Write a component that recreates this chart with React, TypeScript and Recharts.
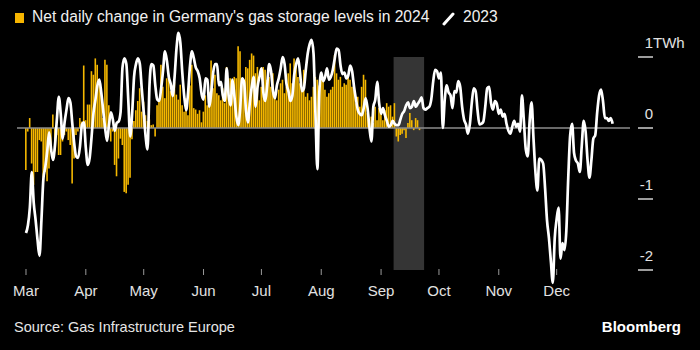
import { ComposedChart, Bar, Line, XAxis, YAxis, ReferenceArea, ReferenceLine } from 'recharts'

// day index 0 = 1 March, one value per day (TWh)
const monthTicks = [0, 31, 61, 92, 122, 153, 184, 214, 245, 275]
const monthLabels = ['Mar', 'Apr', 'May', 'Jun', 'Jul', 'Aug', 'Sep', 'Oct', 'Nov', 'Dec']
const valueTicks = [-2, -1, 0, 1]
const shadeStart = 190.5
const shadeEnd = 206.3

const change2024 = [
  -0.59, -0.05, 0.14, -0.5, -0.8, -0.62, -0.62, -0.17, -0.19, -0.7,
  -0.62, -0.75, -0.57, -0.33, 0.19, -0.33, -0.1, -0.38, -0.38, -0.19,
  -0.1, -0.05, -0.17, -0.24, -0.78, -0.43, -0.1, -0.05, 0.14, 0.09,
  0.88, 0.11, 0.33, 0.33, 0.8, 0.75, 0.98, 0.89, 0.65, 0.56,
  0.14, 0.96, 0.89, 0.32, -0.19, -0.05, -0.52, -0.68, -0.43, -0.15,
  -0.24, -0.9, -0.92, -0.8, -0.7, -0.16, 0.1, 0.25, 0.38, 0.56,
  0.23, 0.37, 0.18, 0.1, 0.12, 0.04, 0.05, -0.12, 0.32, 0.37,
  0.89, 0.58, 0.42, 0.7, 0.75, 0.52, 0.6, 0.65, 0.47, 0.4,
  0.61, 0.32, 0.23, 0.42, 0.18, 0.6, 0.89, 0.28, 0.26, 0.2,
  0.25, 0.08, 0.23, 0.46, 0.32, 0.51, 0.95, 0.56, 0.75, 0.49,
  0.46, 0.39, 0.56, 0.35, 0.86, 0.7, 0.7, 0.55, 0.72, 0.7,
  1.15, 1.08, 0.62, 0.68, 0.86, 0.84, 0.96, 1.05, 1.02, 0.77,
  0.86, 0.39, 0.58, 0.86, 0.82, 0.68, 0.72, 0.58, 0.77, 0.44,
  0.39, 0.54, 0.63, 0.68, 0.49, 0.58, 0.77, 0.91, 0.63, 0.98,
  0.86, 0.72, 0.63, 0.54, 0.82, 0.44, 0.49, 0.39, 0.44, 0.58,
  0.72, 0.68, 0.6, 0.72, 0.68, 0.54, 0.44, 0.49, 0.54, 0.58,
  1.03, 0.77, 0.68, 0.72, 0.58, 0.63, 0.61, 0.72, 0.68, 0.58,
  0.54, 0.35, 0.44, 0.3, 0.58, 0.75, 0.68, 0.21, 0.11, 0.16,
  0.07, 0.3, 0.11, 0.28, 0.21, 0.11, 0.25, 0.35, 0.3, 0.32,
  0.16, 0.35, -0.12, -0.19, -0.1, -0.08, -0.03, -0.14, 0.07, 0.21,
  0.11, -0.03, 0.14, 0.11, -0.03,
]

const change2023 = [
  -1.48, -1.37, -1.12, -0.62, -1.05, -1.3, -1.58, -1.8, -1.3, -0.72,
  -0.55, -0.33, -0.06, -0.3, -0.45, -0.25, 0.12, 0.44, 0.2, -0.15,
  0.08, 0.26, 0.42, 0.36, 0.06, -0.22, -0.4, -0.42, -0.25, 0.05,
  0.08, -0.28, -0.52, -0.42, -0.12, 0.22, 0.4, 0.6, 0.68, 0.5,
  0.25, 0.0, -0.18, 0.04, 0.22, 0.12, -0.04, 0.07, 0.09, 0.22,
  0.85, 0.98, 0.9, 0.4, -0.12, 0.2, 0.72, 0.9, 0.98, 0.9,
  0.55, 0.23, -0.12, -0.3, 0.6, 0.9, 0.88, 0.6, 0.4, 0.38,
  0.55, 0.8, 1.08, 0.95, 0.72, 0.62, 0.45, 0.72, 1.12, 1.34,
  1.2, 0.78, 0.45, 0.25, 0.5, 0.88, 1.08, 0.98, 0.85, 0.8,
  0.7, 0.48, 0.4, 0.7, 0.68, 0.3, 0.5, 0.78, 0.9, 0.9,
  0.6, 0.65, 0.46, 0.38, 0.84, 0.46, 0.32, 0.68, 0.45, 0.16,
  0.04, 0.28, 0.7, 0.65, 0.25, 0.08, 0.36, 0.58, 0.72, 0.3,
  0.58, 0.72, 0.84, 0.5, 0.38, 0.6, 0.9, 0.8, 0.52, 0.42,
  0.6, 0.7, 0.84, 1.0, 0.9, 0.62, 0.52, 0.38, 0.45, 0.75,
  0.9, 0.98, 0.78, 0.52, 0.56, 0.82, 1.05, 1.18, 1.24, 1.05,
  0.2, -0.58, 0.5, 0.78, 0.66, 0.72, 0.84, 0.68, 0.72, 0.82,
  0.98, 1.12, 1.1, 0.88, 0.76, 0.78, 0.7, 0.74, 0.88, 0.8,
  0.58, 0.4, 0.25, 0.2, 0.18, 0.28, 0.42, 0.28, 0.0, -0.19,
  0.3, 0.4, 0.65, 0.35, 0.2, 0.28, 0.18, 0.1, 0.02, 0.04,
  0.1, 0.06, 0.04, 0.04, 0.12, 0.2, 0.24, 0.32, 0.36, 0.28,
  0.3, 0.38, 0.3, 0.34, 0.38, 0.43, 0.28, 0.26, 0.28, 0.3,
  0.4, 0.65, 0.82, 0.8, 0.7, 0.78, 0.0, 0.4, 0.6, 0.5,
  0.46, 0.28, 0.52, 0.5, 0.66, 0.58, 0.3, 0.12, 0.05, -0.08,
  0.05, 0.35, 0.56, 0.52, 0.25, 0.05, 0.06, 0.09, 0.3, 0.56,
  0.58, 0.35, 0.26, 0.38, 0.34, 0.2, 0.26, 0.16, 0.2, 0.06,
  -0.04, -0.08, 0.02, 0.1, 0.02, 0.06, -0.05, 0.46, 0.1, -0.3,
  -0.4, 0.1, 0.36, -0.15, -0.62, -0.88, -0.43, -0.45, -0.5, -0.85,
  -1.3, -1.55, -1.88, -2.18, -1.55, -1.28, -1.12, -1.84, -1.62, -1.72,
  -1.45, -0.7, -0.1, 0.06, -0.35, -0.46, -0.5, -0.62, -0.25, 0.1,
  -0.05, -0.45, -0.7, -0.45, -0.15, -0.1, 0.22, 0.46, 0.54, 0.38,
  0.14, 0.14, 0.1, 0.14, 0.06,
]

const rows = change2023.map((v, i) => ({ d: i, y2023: v, y2024: change2024[i] }))

const font = '"Liberation Sans", Arial, sans-serif'

function MonthTick({ x, payload }: any) {
  const label = monthLabels[monthTicks.indexOf(payload.value)]
  return (
    <g>
      <line x1={x} x2={x} y1={269} y2={275} stroke="#9a9a9a" strokeWidth={1} />
      <text x={x} y={296} textAnchor="middle" fill="#e2e2e2" fontSize={15} fontFamily={font}>
        {label}
      </text>
    </g>
  )
}

function ValueTick({ y, payload }: any) {
  const v = payload.value
  return (
    <g>
      <line x1={638} x2={653} y1={y} y2={y} stroke="#d0d0d0" strokeWidth={1.5} />
      <text x={653} y={y - 9} textAnchor="end" fill="#e2e2e2" fontSize={15} fontFamily={font}>
        {v}
      </text>
      {v === 1 && (
        <text x={653} y={y - 9} textAnchor="start" fill="#e2e2e2" fontSize={15} fontFamily={font}>
          TWh
        </text>
      )}
    </g>
  )
}

export default function App() {
  return (
    <div style={{ position: 'absolute', left: 0, top: 0, width: 700, height: 350, background: '#000', fontFamily: font, overflow: 'hidden' }}>
      <div style={{ position: 'absolute', left: 15, top: 13, width: 9, height: 10, background: '#f7b500' }} />
      <div style={{ position: 'absolute', left: 32, top: 8, color: '#f0f0f0', fontSize: 15.6, whiteSpace: 'nowrap' }}>
        Net daily change in Germany's gas storage levels in 2024
      </div>
      <svg style={{ position: 'absolute', left: 442, top: 12 }} width={14} height={14}>
        <line x1={2} y1={12} x2={11} y2={2} stroke="#fff" strokeWidth={3} strokeLinecap="round" />
      </svg>
      <div style={{ position: 'absolute', left: 463, top: 8, color: '#f0f0f0', fontSize: 15.6 }}>2023</div>

      <ComposedChart
        width={700}
        height={350}
        data={rows}
        margin={{ top: 25.05, right: 0, bottom: 0, left: 17 }}
        style={{ position: 'absolute', left: 0, top: 0 }}
      >
        <XAxis
          dataKey="d"
          type="number"
          domain={[-4.66, 313]}
          allowDataOverflow
          ticks={monthTicks}
          tick={<MonthTick />}
          tickLine={false}
          axisLine={false}
          height={58.7}
          interval={0}
        />
        <YAxis
          orientation="right"
          type="number"
          domain={[-2.3, 1.45]}
          ticks={valueTicks}
          tick={<ValueTick />}
          tickLine={false}
          axisLine={false}
          width={70}
          interval={0}
        />
        <ReferenceArea x1={shadeStart} x2={shadeEnd} y1={-2} y2={1} fill="#353535" fillOpacity={1} stroke="none" />
        <ReferenceLine y={0} stroke="#8c8c8c" strokeWidth={1.5} />
        <Bar dataKey="y2024" fill="#f5b800" barSize={1.6} isAnimationActive={false} />
        <Line
          dataKey="y2023"
          type="monotone"
          stroke="#ffffff"
          strokeWidth={2.7}
          dot={false}
          activeDot={false}
          strokeLinejoin="round"
          isAnimationActive={false}
        />
      </ComposedChart>

      <div style={{ position: 'absolute', left: 14, top: 319, color: '#e6e6e6', fontSize: 14.5, whiteSpace: 'nowrap' }}>
        Source: Gas Infrastructure Europe
      </div>
      <div style={{ position: 'absolute', right: 19, top: 318, color: '#ffffff', fontSize: 15, fontWeight: 700 }}>
        Bloomberg
      </div>
    </div>
  )
}
